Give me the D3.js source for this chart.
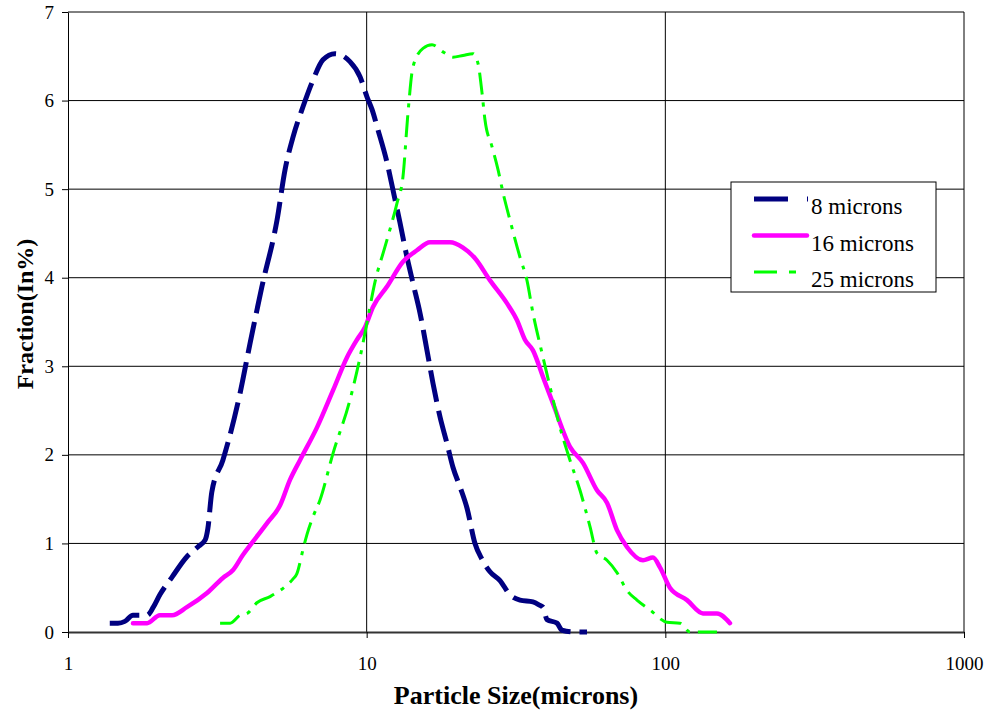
<!DOCTYPE html>
<html>
<head>
<meta charset="utf-8">
<script src="https://cdn.jsdelivr.net/npm/d3@7"></script>
<style>
    body { margin: 0; background: #fff; }
    text { font-family: "Liberation Serif", "Times New Roman", serif; fill: #000; }
</style>
</head>
<body>
<div id="chart"></div>
<script>
// particle size (microns) and fraction (%)
var size8 = [1.38, 1.47, 1.55, 1.65, 1.84, 1.93, 2.03, 2.23, 2.50, 2.72, 2.88, 2.94, 3.03, 3.30, 3.77, 4.07, 4.46, 5.01, 5.33, 5.67,
    6.12, 6.61, 7.14, 7.83, 8.79, 9.50, 10.03, 10.42, 10.91, 11.70, 12.25, 12.93, 13.65, 14.29, 15.09, 15.92, 16.67, 17.60, 18.57, 19.45,
    20.53, 21.67, 23.05, 24.33, 25.88, 27.96, 30.19, 32.62, 36.04, 38.05, 38.94, 40.16, 43.38, 45.08, 49.83, 54.67];
var frac8 = [0.10, 0.10, 0.12, 0.19, 0.19, 0.28, 0.42, 0.62, 0.85, 0.96, 1.04, 1.17, 1.58, 1.94, 2.70, 3.26, 3.90, 4.65, 5.22, 5.59,
    5.93, 6.23, 6.46, 6.53, 6.44, 6.27, 6.04, 5.90, 5.67, 5.30, 4.99, 4.62, 4.23, 3.94, 3.60, 3.18, 2.81, 2.43, 2.13, 1.86,
    1.64, 1.40, 1.00, 0.82, 0.68, 0.58, 0.42, 0.36, 0.34, 0.30, 0.28, 0.14, 0.10, 0.02, 0.00, 0.00];

var size16 = [1.65, 1.84, 2.03, 2.23, 2.50, 2.92, 3.30, 3.57, 3.85, 4.16, 4.64, 5.13, 5.54, 5.98, 6.82, 7.72, 8.59, 9.28, 9.87, 10.50,
    11.70, 13.23, 14.74, 16.29, 19.01, 21.01, 23.05, 25.88, 29.51, 31.87, 33.88, 36.04, 38.94, 42.06, 47.95, 52.99, 59.04, 63.77, 68.88, 74.38,
    84.18, 90.92, 95.94, 103.6, 118.2, 133.7, 148.9, 164.6];
var frac16 = [0.10, 0.10, 0.19, 0.19, 0.28, 0.44, 0.61, 0.70, 0.87, 1.02, 1.23, 1.43, 1.72, 1.94, 2.31, 2.73, 3.10, 3.30, 3.44, 3.67,
    3.90, 4.18, 4.31, 4.40, 4.40, 4.34, 4.22, 3.97, 3.71, 3.52, 3.30, 3.18, 2.88, 2.58, 2.09, 1.91, 1.60, 1.46, 1.15, 0.96,
    0.81, 0.84, 0.73, 0.50, 0.36, 0.21, 0.21, 0.10];

var size25 = [3.23, 3.49, 3.77, 3.98, 4.29, 4.75, 5.41, 5.67, 5.84, 6.12, 6.31, 6.61, 6.98, 7.72, 8.79, 9.72, 10.10, 10.66, 11.52, 12.63,
    13.23, 13.75, 14.29, 15.44, 16.55, 18.01, 19.45, 21.01, 22.70, 23.59, 24.33, 24.90, 26.28, 27.53, 28.61, 30.19, 32.62, 34.41, 36.04, 38.64,
    41.09, 44.39, 47.95, 51.79, 55.95, 59.04, 63.77, 68.88, 74.38, 80.35, 88.84, 101.3, 111.9, 120.9, 148.9];
var frac25 = [0.10, 0.10, 0.19, 0.21, 0.33, 0.40, 0.53, 0.60, 0.66, 0.93, 1.10, 1.30, 1.49, 2.02, 2.62, 3.26, 3.55, 3.95, 4.35, 4.84,
    5.14, 5.86, 6.38, 6.59, 6.63, 6.55, 6.49, 6.51, 6.53, 6.42, 6.09, 5.78, 5.48, 5.22, 4.96, 4.65, 4.23, 3.97, 3.60, 3.15,
    2.77, 2.31, 1.94, 1.60, 1.19, 0.89, 0.81, 0.67, 0.47, 0.36, 0.25, 0.11, 0.10, 0.00, 0.00];

var seriesNames = ["8 microns", "16 microns", "25 microns"];
var xTicks = [1, 10, 100, 1000];
var yTicks = [0, 1, 2, 3, 4, 5, 6, 7];

var svgWidth = 988;
var svgHeight = 713;

var margin = {
    top: 12,
    bottom: 81,
    right: 24,
    left: 68
};

var width = svgWidth - margin.left - margin.right;
var height = svgHeight - margin.top - margin.bottom;

var svg = d3.select("#chart")
    .append("svg")
    .attr("width", svgWidth)
    .attr("height", svgHeight);

var chartGroup = svg.append("g")
    .attr("transform", `translate(${margin.left}, ${margin.top})`);

var xLogScale = d3.scaleLog()
    .domain([1, 1000])
    .range([0, width]);

var yLinearScale = d3.scaleLinear()
    .domain([0, 7])
    .range([height, 0]);

// gridlines
chartGroup.selectAll(".hgrid")
    .data(yTicks.slice(1))
    .enter()
    .append("line")
    .attr("class", "hgrid")
    .attr("x1", 0)
    .attr("x2", width)
    .attr("y1", d => yLinearScale(d))
    .attr("y2", d => yLinearScale(d))
    .attr("stroke", "#000")
    .attr("stroke-width", 1);

chartGroup.selectAll(".vgrid")
    .data(xTicks.slice(1))
    .enter()
    .append("line")
    .attr("class", "vgrid")
    .attr("x1", d => xLogScale(d))
    .attr("x2", d => xLogScale(d))
    .attr("y1", 0)
    .attr("y2", height)
    .attr("stroke", "#000")
    .attr("stroke-width", 1);

var leftAxis = d3.axisLeft(yLinearScale)
    .tickValues(yTicks)
    .tickFormat(d3.format("d"))
    .tickSize(6)
    .tickSizeOuter(0)
    .tickPadding(8);

var bottomAxis = d3.axisBottom(xLogScale)
    .tickValues(xTicks)
    .tickFormat(d3.format("d"))
    .tickSize(6)
    .tickSizeOuter(0)
    .tickPadding(19);

var yAxis = chartGroup.append("g")
    .call(leftAxis);

var xAxis = chartGroup.append("g")
    .attr("transform", `translate(0, ${height})`)
    .call(bottomAxis);

yAxis.selectAll("text").style("font-size", "19px");
xAxis.selectAll("text").style("font-size", "19px");
yAxis.select(".domain").attr("stroke", "#000");
xAxis.select(".domain").attr("stroke", "#333").attr("stroke-width", 2);

// curves
var line = d3.line()
    .x(d => xLogScale(d[0]))
    .y(d => yLinearScale(d[1]))
    .curve(d3.curveMonotoneX);

var pts8 = size8.map((s, i) => [s, frac8[i]]);
var pts16 = size16.map((s, i) => [s, frac16[i]]);
var pts25 = size25.map((s, i) => [s, frac25[i]]);

chartGroup.append("path")
    .datum(pts8)
    .attr("d", line)
    .attr("fill", "none")
    .attr("stroke", "#000080")
    .attr("stroke-width", 5)
    .attr("stroke-dasharray", "32,9");

chartGroup.append("path")
    .datum(pts16)
    .attr("d", line)
    .attr("fill", "none")
    .attr("stroke", "#FF00FF")
    .attr("stroke-width", 4.5)
    .attr("stroke-linecap", "round")
    .attr("stroke-linejoin", "round");

chartGroup.append("path")
    .datum(pts25)
    .attr("d", line)
    .attr("fill", "none")
    .attr("stroke", "#00FF00")
    .attr("stroke-width", 3)
    .attr("stroke-dasharray", "22,8,4,8");

// axis titles
svg.append("text")
    .attr("x", margin.left + width / 2)
    .attr("y", 704)
    .attr("text-anchor", "middle")
    .style("font-size", "26px")
    .style("font-weight", "bold")
    .text("Particle Size(microns)");

svg.append("text")
    .attr("transform", "rotate(-90)")
    .attr("x", -314)
    .attr("y", 33)
    .attr("text-anchor", "middle")
    .style("font-size", "24px")
    .style("font-weight", "bold")
    .text("Fraction(In%)");

// legend
var legendGroup = svg.append("g")
    .attr("transform", "translate(731, 182)");

legendGroup.append("rect")
    .attr("width", 205)
    .attr("height", 110)
    .attr("fill", "#fff")
    .attr("stroke", "#000")
    .attr("stroke-width", 1);

var legendStyles = [
    { color: "#000080", w: 5, dash: "34,19", x2: 77 },
    { color: "#FF00FF", w: 4.5, dash: null, x2: 76 },
    { color: "#00FF00", w: 3, dash: "23,12,7", x2: 66 }
];

var legendItems = legendGroup.selectAll(".legendItem")
    .data(seriesNames)
    .enter()
    .append("g")
    .attr("class", "legendItem")
    .attr("transform", (d, i) => `translate(0, ${17 + i * 36.5})`);

legendItems.append("line")
    .attr("x1", 23)
    .attr("x2", (d, i) => legendStyles[i].x2)
    .attr("y1", 0)
    .attr("y2", 0)
    .attr("stroke", (d, i) => legendStyles[i].color)
    .attr("stroke-width", (d, i) => legendStyles[i].w)
    .attr("stroke-linecap", (d, i) => legendStyles[i].dash ? "butt" : "round")
    .attr("stroke-dasharray", (d, i) => legendStyles[i].dash);

legendItems.append("text")
    .attr("x", 80)
    .attr("y", 15)
    .style("font-size", "23px")
    .text(d => d);
</script>
</body>
</html>
